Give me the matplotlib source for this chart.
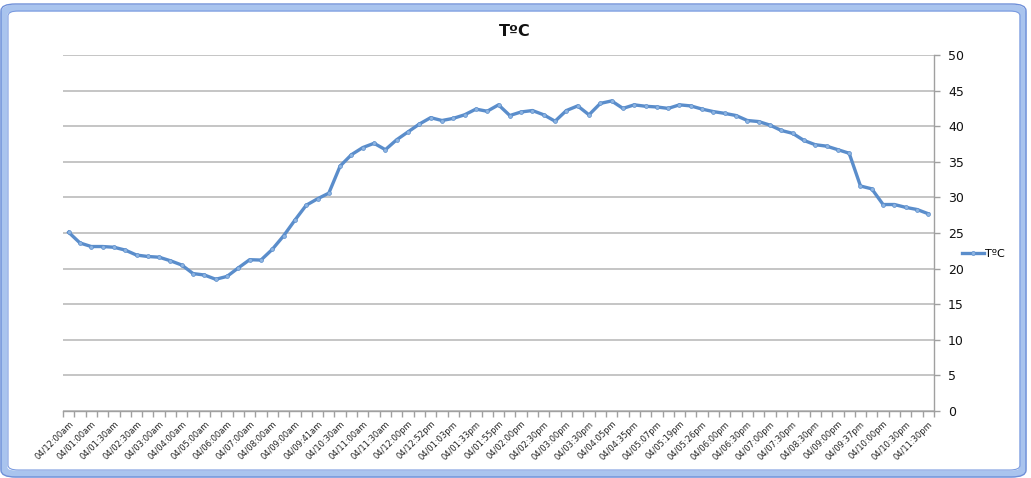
import matplotlib
matplotlib.use("Agg")
import matplotlib.pyplot as plt
from matplotlib.patches import FancyBboxPatch
import numpy as np

labels = ["04/12:00am", "04/01:00am", "04/01:30am", "04/02:30am", "04/03:00am",
          "04/04:00am", "04/05:00am", "04/06:00am", "04/07:00am", "04/08:00am",
          "04/09:00am", "04/09:41am", "04/10:30am", "04/11:00am", "04/11:30am",
          "04/12:00pm", "04/12:52pm", "04/01:03pm", "04/01:33pm", "04/01:55pm",
          "04/02:00pm", "04/02:30pm", "04/03:00pm", "04/03:30pm", "04/04:05pm",
          "04/04:35pm", "04/05:07pm", "04/05:19pm", "04/05:26pm", "04/06:00pm",
          "04/06:30pm", "04/07:00pm", "04/07:30pm", "04/08:30pm", "04/09:00pm",
          "04/09:37pm", "04/10:00pm", "04/10:30pm", "04/11:30pm"]

temps = [25.1, 23.6, 23.1, 23.1, 23.0, 22.6, 21.9, 21.7, 21.6, 21.1,
         20.5, 19.3, 19.1, 18.5, 18.9, 20.1, 21.25, 21.2, 22.7, 24.6,
         26.8, 28.9, 29.8, 30.6, 34.4, 36.0, 37.0, 37.6, 36.7, 38.1,
         39.2, 40.3, 41.2, 40.8, 41.1, 41.6, 42.4, 42.1, 43.0, 41.5,
         42.0, 42.2, 41.6, 40.7, 42.2, 42.85, 41.6, 43.2, 43.55, 42.5,
         43.0, 42.8, 42.7, 42.5, 43.0, 42.85, 42.4, 42.05, 41.8, 41.5,
         40.8, 40.65, 40.15, 39.4, 39.0, 38.0, 37.4, 37.2, 36.7, 36.2,
         31.6, 31.2, 29.0, 29.0, 28.6, 28.3, 27.7]

series_name = "TºC"
title = "TºC"
yticks = [0, 5, 10, 15, 20, 25, 30, 35, 40, 45, 50]

W, H = 1031, 478
fig = plt.figure(figsize=(W / 100, H / 100), dpi=100)
fig.patch.set_facecolor("white")

# Excel selection frame
frame = FancyBboxPatch((4 / W, 4 / H), (1023 - 4) / W, (470 - 4) / H,
                       boxstyle="round,pad=0,rounding_size=0.012",
                       transform=fig.transFigure, facecolor="none",
                       edgecolor="#a9c4ee", linewidth=5, zorder=0)
fig.patches.append(frame)
frame2 = FancyBboxPatch((1 / W, 1 / H), (1026 - 1) / W, (474 - 1) / H,
                        boxstyle="round,pad=0,rounding_size=0.014",
                        transform=fig.transFigure, facecolor="none",
                        edgecolor="#6e8fd8", linewidth=1, zorder=0)
fig.patches.append(frame2)
frame3 = FancyBboxPatch((8 / W, 8 / H), (1020 - 8) / W, (467 - 8) / H,
                        boxstyle="round,pad=0,rounding_size=0.01",
                        transform=fig.transFigure, facecolor="none",
                        edgecolor="#7b9be0", linewidth=0.8, zorder=0)
fig.patches.append(frame3)

left, right, bottom, top = 63, 934, 411, 55
ax = fig.add_axes([left / W, 1 - bottom / H, (right - left) / W, (bottom - top) / H])

x = np.arange(len(temps))
line_color = "#5a8dcb"
ax.plot(x, temps, color=line_color, lw=2.4, marker="o", ms=2.8,
        mfc="#8db4e2", mec=line_color, mew=0.5, label=series_name, zorder=3,
        solid_joinstyle="round")

ax.set_xlim(-0.5, len(temps) - 0.5)
ax.set_ylim(0, 50)

ax.yaxis.tick_right()
ax.set_yticks(yticks)
ax.set_yticklabels([str(v) for v in yticks], fontsize=9, color="#111111")
ax.tick_params(axis="y", which="major", direction="out", length=4, width=1,
               color="#a0a0a0", pad=6)
ax.yaxis.grid(True, color="#c0c0c0", lw=1.3)
ax.set_axisbelow(True)

ax.set_xticks(x[::2])
ax.set_xticklabels(labels, rotation=45, ha="right", rotation_mode="anchor",
                   fontsize=6, color="#222222", family="DejaVu Sans")
ax.tick_params(axis="x", which="major", length=0, pad=6)
ax.set_xticks(np.arange(-0.5, len(temps)), minor=True)
ax.tick_params(axis="x", which="minor", direction="out", length=4, width=1,
               color="#a0a0a0")

for s in ["top", "left"]:
    ax.spines[s].set_visible(False)
for s in ["bottom", "right"]:
    ax.spines[s].set_color("#a0a0a0")
    ax.spines[s].set_linewidth(1)

fig.text(515 / W, 1 - 31 / H, title, ha="center", va="center",
         fontsize=11.5, fontweight="bold", color="#111111")

fig.legend(loc="center left", bbox_to_anchor=(962 / W, 1 - 254 / H),
           frameon=False, fontsize=8, handlelength=2.0, handletextpad=0.1,
           borderaxespad=0, borderpad=0)

fig.savefig("out.png", dpi=100, facecolor="white")
